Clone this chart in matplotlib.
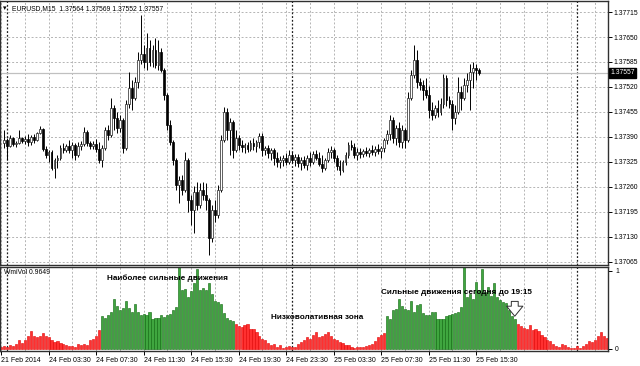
import matplotlib
matplotlib.use('Agg')
import matplotlib.pyplot as plt
import matplotlib.transforms as mtransforms
import numpy as np

plt.rcParams['font.family'] = ['Liberation Sans', 'DejaVu Sans']

# ---------------- data -----------------
# bar number, M15, 0 = 24 Feb 2014 00:00
first_bar = -1
opens = [1.37374,1.37382,1.37367,1.37387,1.37372,1.37374,1.37387,1.37380,1.37385,1.37377,1.37390,
         1.37382,1.37400,1.37411,1.37359,1.37343,1.37351,1.37309,1.37330,1.37335,1.37361,
         1.37356,1.37367,1.37356,1.37369,1.37343,1.37367,1.37372,1.37403,1.37374,1.37367,
         1.37372,1.37359,1.37330,1.37361,1.37408,1.37395,1.37466,1.37440,1.37413,1.37434,
         1.37361,1.37476,1.37518,1.37492,1.37533,1.37591,1.37606,1.37585,1.37622,1.37585,
         1.37617,1.37578,1.37612,1.37565,1.37499,1.37421,1.37377,1.37330,1.37265,1.37278,
         1.37252,1.37330,1.37226,1.37200,1.37247,1.37213,1.37252,1.37239,1.37226,1.37127,
         1.37200,1.37187,1.37252,1.37382,1.37455,1.37408,1.37429,1.37356,1.37387,1.37369,
         1.37364,1.37369,1.37359,1.37374,1.37367,1.37377,1.37393,1.37356,1.37361,1.37348,
         1.37356,1.37335,1.37325,1.37330,1.37335,1.37325,1.37343,1.37330,1.37338,1.37322,
         1.37330,1.37317,1.37335,1.37325,1.37346,1.37335,1.37320,1.37309,1.37330,1.37351,
         1.37356,1.37335,1.37314,1.37304,1.37325,1.37343,1.37369,1.37364,1.37343,1.37351,
         1.37346,1.37353,1.37348,1.37356,1.37351,1.37359,1.37353,1.37361,1.37382,1.37398,
         1.37434,1.37387,1.37413,1.37377,1.37408,1.37382,1.37492,1.37551,1.37591,1.37533,
         1.37525,1.37512,1.37499,1.37460,1.37447,1.37466,1.37455,1.37476,1.37544,1.37486,
         1.37476,1.37440,1.37455,1.37507,1.37492,1.37525,1.37538,1.37559,1.37570,1.37564]
highs = [1.37408,1.37387,1.37395,1.37390,1.37380,1.37408,1.37390,1.37393,1.37398,1.37395,1.37398,
         1.37403,1.37419,1.37413,1.37367,1.37356,1.37356,1.37335,1.37343,1.37369,1.37374,
         1.37372,1.37382,1.37377,1.37374,1.37377,1.37380,1.37416,1.37408,1.37380,1.37380,
         1.37385,1.37377,1.37369,1.37416,1.37421,1.37492,1.37473,1.37455,1.37447,1.37440,
         1.37486,1.37559,1.37538,1.37546,1.37612,1.37708,1.37630,1.37661,1.37643,1.37630,
         1.37648,1.37643,1.37622,1.37570,1.37505,1.37434,1.37382,1.37335,1.37288,1.37291,
         1.37351,1.37335,1.37239,1.37262,1.37273,1.37270,1.37273,1.37270,1.37231,1.37213,
         1.37226,1.37265,1.37395,1.37468,1.37466,1.37440,1.37434,1.37408,1.37395,1.37382,
         1.37374,1.37377,1.37382,1.37387,1.37382,1.37400,1.37400,1.37367,1.37369,1.37361,
         1.37361,1.37351,1.37341,1.37343,1.37348,1.37356,1.37351,1.37346,1.37346,1.37338,
         1.37341,1.37343,1.37351,1.37353,1.37356,1.37351,1.37343,1.37335,1.37361,1.37367,
         1.37361,1.37343,1.37330,1.37330,1.37351,1.37377,1.37382,1.37374,1.37361,1.37361,
         1.37359,1.37364,1.37361,1.37369,1.37367,1.37372,1.37367,1.37387,1.37408,1.37447,
         1.37442,1.37421,1.37429,1.37421,1.37413,1.37507,1.37565,1.37630,1.37617,1.37544,
         1.37538,1.37544,1.37523,1.37481,1.37473,1.37486,1.37492,1.37554,1.37551,1.37497,
         1.37486,1.37473,1.37546,1.37523,1.37544,1.37557,1.37580,1.37585,1.37580,1.37569]
lows = [1.37361,1.37330,1.37364,1.37367,1.37364,1.37372,1.37374,1.37372,1.37367,1.37369,1.37374,
        1.37380,1.37398,1.37353,1.37335,1.37325,1.37304,1.37283,1.37309,1.37330,1.37348,
        1.37351,1.37348,1.37335,1.37330,1.37338,1.37356,1.37367,1.37367,1.37359,1.37359,
        1.37351,1.37322,1.37312,1.37356,1.37382,1.37390,1.37408,1.37400,1.37403,1.37348,
        1.37356,1.37466,1.37460,1.37486,1.37518,1.37580,1.37570,1.37565,1.37575,1.37572,
        1.37570,1.37565,1.37559,1.37486,1.37408,1.37369,1.37317,1.37252,1.37218,1.37239,
        1.37247,1.37195,1.37161,1.37140,1.37200,1.37205,1.37226,1.37200,1.37083,1.37116,
        1.37169,1.37179,1.37247,1.37377,1.37382,1.37343,1.37335,1.37351,1.37356,1.37351,
        1.37348,1.37351,1.37353,1.37356,1.37351,1.37361,1.37341,1.37343,1.37335,1.37330,
        1.37317,1.37312,1.37309,1.37314,1.37317,1.37320,1.37322,1.37314,1.37312,1.37304,
        1.37309,1.37304,1.37314,1.37320,1.37330,1.37314,1.37299,1.37304,1.37325,1.37335,
        1.37325,1.37304,1.37291,1.37299,1.37317,1.37335,1.37356,1.37335,1.37330,1.37335,
        1.37338,1.37341,1.37338,1.37343,1.37341,1.37346,1.37335,1.37351,1.37372,1.37382,
        1.37374,1.37369,1.37364,1.37361,1.37361,1.37377,1.37486,1.37544,1.37518,1.37512,
        1.37486,1.37492,1.37440,1.37434,1.37440,1.37442,1.37447,1.37466,1.37471,1.37466,
        1.37408,1.37424,1.37450,1.37460,1.37486,1.37507,1.37460,1.37518,1.37538,1.37552]
closes = [1.37382,1.37367,1.37387,1.37372,1.37374,1.37387,1.37380,1.37385,1.37377,1.37390,1.37382,
          1.37400,1.37411,1.37359,1.37343,1.37351,1.37309,1.37330,1.37335,1.37361,1.37356,
          1.37367,1.37356,1.37369,1.37343,1.37367,1.37372,1.37403,1.37374,1.37367,1.37372,
          1.37359,1.37330,1.37361,1.37408,1.37395,1.37466,1.37440,1.37413,1.37434,1.37361,
          1.37476,1.37518,1.37492,1.37533,1.37591,1.37606,1.37585,1.37622,1.37585,1.37617,
          1.37578,1.37612,1.37565,1.37499,1.37421,1.37377,1.37330,1.37265,1.37278,1.37252,
          1.37330,1.37226,1.37200,1.37247,1.37213,1.37252,1.37239,1.37226,1.37127,1.37200,
          1.37187,1.37252,1.37382,1.37455,1.37408,1.37429,1.37356,1.37387,1.37369,1.37364,
          1.37369,1.37359,1.37374,1.37367,1.37377,1.37393,1.37356,1.37361,1.37348,1.37356,
          1.37335,1.37325,1.37330,1.37335,1.37325,1.37343,1.37330,1.37338,1.37322,1.37330,
          1.37317,1.37335,1.37325,1.37346,1.37335,1.37320,1.37309,1.37330,1.37351,1.37356,
          1.37335,1.37314,1.37304,1.37325,1.37343,1.37369,1.37364,1.37343,1.37351,1.37346,
          1.37353,1.37348,1.37356,1.37351,1.37359,1.37353,1.37361,1.37382,1.37398,1.37434,
          1.37387,1.37413,1.37377,1.37408,1.37382,1.37492,1.37551,1.37591,1.37533,1.37525,
          1.37512,1.37499,1.37460,1.37447,1.37466,1.37455,1.37476,1.37544,1.37486,1.37476,
          1.37440,1.37455,1.37507,1.37492,1.37525,1.37538,1.37559,1.37570,1.37565,1.37557]

# WmiVol histogram, starts at bar -2, runs into the future
vol_first = -2
vol = [0.03,0.04,0.02,0.05,0.04,0.07,0.11,0.08,0.12,0.17,0.23,0.17,0.15,0.17,0.20,0.16,0.15,
       0.11,0.09,0.10,0.08,0.07,0.05,0.04,0.04,0.03,0.06,0.05,0.07,0.05,0.12,0.13,0.16,0.24,
       0.42,0.40,0.44,0.47,0.64,0.55,0.50,0.52,0.62,0.53,0.48,0.58,0.47,0.44,0.45,0.44,0.47,
       0.39,0.40,0.40,0.44,0.41,0.43,0.45,0.50,0.54,1.06,0.76,0.77,0.67,0.74,0.84,1.02,0.75,
       0.78,0.76,0.84,0.70,0.62,0.60,0.58,0.46,0.40,0.37,0.36,
       0.32,0.30,0.28,0.31,0.32,0.25,0.25,0.22,0.17,0.13,0.12,0.08,0.05,0.06,0.03,0.05,0.01,
       0.02,0.04,0.02,0.03,0.06,0.09,0.12,0.15,0.13,0.18,0.22,
       0.15,0.16,0.19,0.22,0.16,0.13,0.11,0.09,0.08,0.05,0.05,0.03,0.01,0.02,0.03,0.02,0.04,
       0.05,0.06,0.10,0.15,0.18,0.20,
       0.42,0.38,0.50,0.51,0.64,0.55,0.51,0.50,0.61,0.48,0.56,0.58,0.46,0.44,0.44,0.47,0.48,
       0.38,0.39,0.38,0.42,0.43,0.45,0.46,0.48,0.54,1.06,0.67,0.70,0.64,0.86,0.76,1.02,0.73,
       0.79,0.68,0.85,0.66,0.63,0.60,0.59,0.50,0.42,0.39,
       0.32,0.29,0.27,0.25,0.31,0.24,0.25,0.23,0.18,0.15,0.12,0.10,0.06,0.04,0.03,0.06,0.05,
       0.02,0.01,0.01,0.04,0.01,0.04,0.07,0.10,0.09,0.12,0.16,0.22,0.16,0.14]
strong_zones = [(32, 76), (128, 171)]

price_levels = [1.37715, 1.37650, 1.37585, 1.37520, 1.37455, 1.37390,
                1.37325, 1.37260, 1.37195, 1.37130, 1.37065]
bid = 1.37557
time_ticks = [-2, 14, 30, 46, 62, 78, 94, 110, 126, 142, 158]
time_labels = ['21 Feb 2014', '24 Feb 03:30', '24 Feb 07:30', '24 Feb 11:30', '24 Feb 15:30',
               '24 Feb 19:30', '24 Feb 23:30', '25 Feb 03:30', '25 Feb 07:30', '25 Feb 11:30',
               '25 Feb 15:30']
day_breaks = [0, 96, 192]

# ---------------- figure -----------------
fig = plt.figure(figsize=(6.4, 3.66), dpi=100)
ax = fig.add_axes([0.0, 0.276, 0.95, 0.7213])
ax2 = fig.add_axes([0.0, 0.041, 0.95, 0.2295])

small = 4.9
xl = (-2.36, 202.4)
grid_kw = dict(color='#b4b4b4', lw=0.7, ls=(0, (2, 2)), zorder=0)
for a in (ax, ax2):
    a.set_xlim(*xl)
    for g in np.arange(-2, 203, 8):
        a.axvline(g, **grid_kw)
    for d in day_breaks:
        a.axvline(d, color='#202020', lw=0.9, ls=(0, (1.5, 1.5)), zorder=1)
    for s in a.spines.values():
        s.set_color('#303030')
        s.set_linewidth(1.0)

# main price panel
x = np.arange(first_bar, first_bar + len(closes))
o = np.array(opens); h = np.array(highs); l = np.array(lows); c = np.array(closes)
ax.set_ylim(1.37056, 1.37744)
for p in price_levels:
    ax.axhline(p, **grid_kw)
ax.axhline(bid, color='#c0c0c0', lw=0.9, zorder=1)
ax.vlines(x, l, h, color='black', lw=0.7, zorder=2)
up = c >= o
body = np.maximum(np.abs(c - o), 0.00002)
ax.bar(x[up], body[up], 0.62, bottom=np.minimum(o, c)[up], facecolor='white',
       edgecolor='#202020', lw=0.5, zorder=3)
ax.bar(x[~up], body[~up], 0.62, bottom=np.minimum(o, c)[~up], facecolor='black',
       edgecolor='black', lw=0.5, zorder=3)

ax.yaxis.tick_right()
ax.set_yticks(price_levels)
ax.set_yticklabels(['%.5f' % p for p in price_levels])
ax.tick_params(axis='y', length=3, width=0.7, pad=1, labelsize=small, colors='black')
ax.set_xticks([])
trans = mtransforms.blended_transform_factory(ax.transAxes, ax.transData)
ax.text(1.004, bid, '%.5f' % bid, transform=trans, fontsize=small, color='white',
        va='center', ha='left',
        bbox=dict(boxstyle='square,pad=0.2', fc='black', ec='black'))
fig.text(0.004, 0.978, '\u25be', fontsize=5, va='center', ha='left', family='DejaVu Sans')
fig.text(0.019, 0.978, 'EURUSD,M15  1.37564 1.37569 1.37552 1.37557',
         fontsize=small, va='center', ha='left')

# WmiVol panel
xv = np.arange(vol_first, vol_first + len(vol))
v = np.array(vol)
strong = np.zeros(len(v), bool)
for a0, a1 in strong_zones:
    strong |= (xv >= a0) & (xv <= a1)
ax2.set_ylim(-0.026, 1.051)
ax2.bar(xv[~strong], v[~strong], 0.72, facecolor='#ff3030', edgecolor='#e00000', lw=0.4, zorder=2)
ax2.bar(xv[strong], v[strong], 0.72, facecolor='#3fa63f', edgecolor='#0b640b', lw=0.4, zorder=2)
ax2.yaxis.tick_right()
ax2.set_yticks([0, 1])
ax2.set_yticklabels(['0', '1'])
ax2.tick_params(axis='y', length=3, width=0.7, pad=2, labelsize=small)
ax2.set_xticks(time_ticks)
ax2.set_xticklabels(time_labels, ha='left')
ax2.tick_params(axis='x', length=3, width=0.7, pad=1, labelsize=5.0)
ax2.text(0.006, 0.93, 'WmiVol 0.9649', transform=ax2.transAxes, fontsize=small,
         va='center', ha='left')

bold = dict(fontweight='bold', fontsize=5.9, ha='center', va='center', zorder=5)
ax2.text(54, 0.91, 'Наиболее сильные движения', **bold)
ax2.text(104.5, 0.40, 'Низковолативная зона', **bold)
ax2.text(151.5, 0.72, 'Сильные движения сегодня до 19:15', **bold)
ax2.annotate('', xy=(171, 0.42), xytext=(171, 0.61),
             arrowprops=dict(arrowstyle='simple,head_width=1.3,head_length=0.8,tail_width=0.55',
                             fc='white', ec='#303030', lw=0.7, mutation_scale=9,
                             shrinkA=0, shrinkB=0),
             zorder=5)

fig.savefig('out.png', dpi=100)
